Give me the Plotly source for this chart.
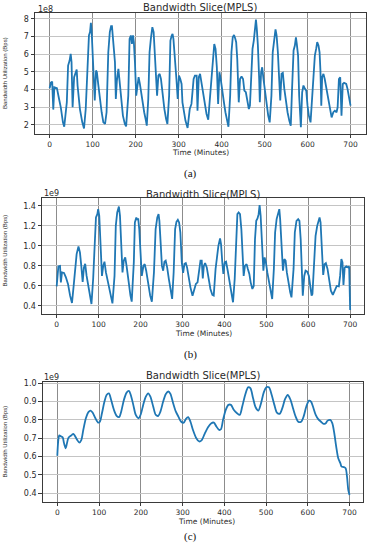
import plotly.graph_objects as go

# ---------------- data ----------------
# Panel (a): bandwidth, units of 1e8 Bps
time_a = [0, 3, 6, 8.5, 11, 14, 17, 22, 26, 31, 34, 40, 43, 46.5, 49, 51, 53.5, 57, 63, 65,
          70.5, 76, 80, 84, 88, 91.5, 94, 96, 97.7, 100, 103, 105, 108, 110, 113, 117, 121, 125, 129,
          132.5, 136.5, 140, 143, 145, 148, 152, 154, 156.5, 160, 163, 166, 170.5, 175, 178,
          183, 186, 189, 191.5, 194, 196, 198.5, 201.5, 205, 207, 210, 214, 216, 220, 224, 226,
          229.5, 232.5, 235.5, 239, 242, 244, 247, 250, 253, 256, 259, 263, 267, 271, 274,
          278, 281, 284, 286, 288, 291.5, 295, 298, 301, 304, 307, 309, 312, 316, 321,
          326, 330, 335, 338, 342, 344, 347, 350, 353.5, 357, 361, 365, 369,
          373, 377, 380.5, 383, 386, 389, 392, 395, 398, 401.5, 405.5, 409, 413, 416,
          420, 423, 426, 429, 432, 434, 436.5, 439, 440, 443, 446.5, 450, 453, 456.5, 460.5, 463.5, 466,
          470, 472, 475, 477.5, 480, 482, 484.5, 487.5, 489, 492, 494.5, 497.5, 501, 505, 508.5, 512,
          516, 519, 522, 525.5, 528, 531, 534, 536.5, 539.5, 542.5, 546, 550, 553.5, 557.5, 561,
          564, 567.5, 570.5, 573, 575, 578, 580.5, 582, 584.5, 587.5, 590.5, 594, 597, 600, 603, 607,
          611, 614, 617, 620, 622.5, 625.5, 628, 630, 632, 634, 637, 640, 644, 648, 652, 656, 660, 663.5, 667.5, 670,
          673, 676, 679, 682, 685, 690, 693, 697, 700]
bw_a = [4.08, 4.40, 4.45, 2.87, 4.13, 4.10, 4.08, 3.47, 3.00, 2.15, 1.90, 3.28, 5.36, 5.64, 6.02, 5.55, 3.00, 4.70, 5.13, 4.23,
        2.90, 2.15, 1.80, 2.90, 5.55, 7.06, 7.25, 7.77, 7.34, 6.10, 4.60, 3.38, 5.08, 4.98, 4.32, 3.47, 2.72, 2.15, 2.06,
        2.72, 6.11, 7.25, 7.58, 7.58, 6.87, 5.55, 3.47, 4.51, 5.17, 4.42, 3.28, 2.53, 2.06, 1.92,
        3.66, 6.87, 7.06, 6.58, 7.06, 6.68, 5.55, 3.66, 4.32, 4.70, 4.32, 3.57, 3.19, 2.72, 2.25, 1.96,
        3.47, 6.11, 6.87, 7.53, 7.25, 6.49, 4.98, 3.66, 4.79, 4.89, 4.60, 3.66, 2.90, 2.34, 2.06,
        3.66, 6.77, 7.06, 7.15, 6.87, 5.92, 4.60, 3.47, 4.79, 4.60, 4.32, 3.28, 2.72, 2.25, 1.83,
        2.90, 3.19, 4.60, 4.79, 4.79, 2.81, 4.70, 4.89, 4.32, 3.66, 3.28, 2.62, 2.30,
        3.66, 4.98, 6.11, 6.58, 6.30, 5.26, 3.19, 4.98, 4.60, 3.85, 3.28, 2.72, 2.34, 1.90,
        3.66, 6.11, 6.96, 7.09, 6.87, 6.68, 5.74, 4.42, 3.28, 4.60, 4.75, 4.60, 3.94, 3.85, 3.28, 2.90, 3.09,
        5.36, 6.30, 6.77, 7.25, 7.96, 7.43, 6.49, 4.60, 3.28, 4.98, 5.26, 4.60, 3.85, 3.09, 2.53, 2.15,
        3.66, 6.11, 6.87, 7.40, 7.06, 6.11, 4.60, 3.38, 4.89, 4.94, 4.04, 3.28, 2.72, 2.25, 1.96,
        4.04, 6.21, 6.49, 6.96, 6.58, 5.92, 3.66, 2.72, 1.87, 3.85, 4.23, 4.04, 3.94, 3.09, 2.53, 2.15,
        3.66, 5.36, 5.92, 6.30, 6.68, 6.49, 6.11, 5.08, 3.09, 4.70, 4.89, 4.60, 4.04, 3.38, 2.81, 2.43, 2.72, 2.81, 2.72, 3.00,
        4.60, 4.70, 2.53, 4.32, 4.38, 4.32, 4.04, 3.47, 3.09]

# Panel (b): bandwidth, units of 1e9 Bps
time_b = [0, 4, 8, 10, 12.7, 17.5, 22, 27, 32, 36.5, 40.5, 44.5, 47.6, 52, 55.5, 58.7, 62, 65, 68, 71.4,
          75.4, 79.4, 83, 87, 90.5, 93.7, 97, 99, 101.6, 104.8, 108, 111, 114, 117.5, 122, 127, 132, 133,
          138, 141, 144.4, 148.4, 151, 154, 157, 160, 163.5, 166.7, 171.4, 176, 179,
          184, 186.5, 190, 192, 194.4, 197, 200, 203, 207, 210, 213.5, 218, 223, 227,
          232, 236, 240, 243, 245, 248.4, 251, 254, 257, 260, 263.5, 267.5, 271.4, 275.4,
          279, 282.5, 285.7, 289, 292, 295, 298.4, 301.6, 304.8, 308, 311, 315, 319, 324, 328, 332, 336,
          340, 343, 346, 348.5, 351, 354, 358, 362, 366.7, 371.4, 374.6,
          379, 382.5, 385.7, 389.7, 392, 395, 397.6, 400.8, 404, 408, 412, 416, 420.6,
          424.6, 428, 431, 434, 437.3, 440.5, 443.6, 446, 449, 453, 456, 459.5, 462.7, 466.7, 470,
          473, 476, 479, 481.7, 484, 486.5, 489.7, 493, 496, 499, 502.4, 506.3, 510, 514,
          518, 521, 524.6, 528.6, 531, 533, 536.5, 539.7, 543, 546, 549, 553, 557, 560,
          565, 568, 572, 576, 579, 582, 584, 587, 590.5, 593.6, 597.6, 601.6, 604.8, 608, 610,
          614, 617.5, 621.4, 624.6, 627, 629.4, 632.5, 635.7, 639, 642, 646, 650, 654, 658.7, 663.5, 668, 673,
          676, 679, 681.7, 684, 687, 691, 695, 697.6, 700]
bw_b = [0.596, 0.795, 0.80, 0.636, 0.735, 0.73, 0.686, 0.62, 0.503, 0.43, 0.60, 0.835, 0.918, 0.995, 0.935, 0.80, 0.64, 0.785, 0.82, 0.70,
        0.60, 0.486, 0.42, 0.67, 1.00, 1.284, 1.317, 1.367, 1.30, 0.968, 0.70, 0.80, 0.842, 0.735, 0.636, 0.52, 0.437, 0.426,
        0.70, 1.20, 1.334, 1.393, 1.30, 1.068, 0.735, 0.852, 0.885, 0.80, 0.636, 0.503, 0.443,
        0.835, 1.234, 1.284, 1.26, 1.274, 1.167, 0.90, 0.70, 0.80, 0.818, 0.752, 0.62, 0.503, 0.443,
        0.735, 1.167, 1.284, 1.317, 1.25, 1.00, 0.80, 0.752, 0.842, 0.852, 0.785, 0.67, 0.553, 0.47,
        0.735, 1.167, 1.24, 1.26, 1.234, 1.134, 0.835, 0.73, 0.82, 0.828, 0.785, 0.67, 0.586, 0.503, 0.553, 0.62, 0.636,
        0.785, 0.852, 0.852, 0.676, 0.80, 0.828, 0.785, 0.70, 0.57, 0.51, 0.503,
        0.77, 0.918, 1.00, 1.074, 1.018, 0.835, 0.72, 0.835, 0.842, 0.752, 0.636, 0.52, 0.437,
        0.67, 1.10, 1.317, 1.334, 1.317, 1.167, 0.852, 0.70, 0.80, 0.818, 0.77, 0.72, 0.636, 0.57, 0.60,
        1.067, 1.25, 1.274, 1.317, 1.407, 1.30, 1.034, 0.752, 0.885, 0.835, 0.735, 0.636, 0.536, 0.47,
        0.77, 1.134, 1.267, 1.334, 1.367, 1.267, 1.034, 0.752, 0.868, 0.852, 0.735, 0.62, 0.536, 0.486,
        0.77, 1.134, 1.25, 1.267, 1.25, 1.067, 0.735, 0.503, 0.70, 0.752, 0.742, 0.70, 0.60, 0.503, 0.52,
        0.835, 1.10, 1.20, 1.25, 1.284, 1.234, 1.00, 0.71, 0.818, 0.828, 0.77, 0.652, 0.553, 0.51, 0.553, 0.60, 0.596,
        0.70, 0.868, 0.835, 0.61, 0.785, 0.795, 0.785, 0.795, 0.36]

# Panel (c): bandwidth, units of 1e9 Bps
time_c = [0, 2.4, 4.8, 8.8, 12.8, 16, 20, 22.3, 26.3, 30.3, 35, 38.3, 42, 47.8, 52.6, 57.4, 62.2, 68.6, 75, 79.7,
          84.5, 91, 98, 102, 106.9, 113, 118, 123.6, 129, 135.6, 142, 148, 153, 159.5, 166, 171.5, 176, 182,
          188, 194.6, 200, 205.7, 212, 217.7, 223, 229.7, 236, 242, 247, 253.6, 260, 266, 271, 277.5, 284,
          290, 296.7, 303, 307.8, 313.4, 319, 325, 333, 339.7, 346, 353, 361, 369, 375, 381, 387.6, 392,
          397, 403.5, 410, 416, 422.6, 430.6, 437, 443, 450, 457, 462.5, 469, 475, 481.6, 488, 494.4, 500.8,
          507, 513.6, 520, 526, 532.7, 539, 545.5, 552, 558, 564.6, 571, 577, 584, 590, 596.5, 603, 607.7,
          612.4, 619, 625, 631.6, 638, 643, 647.5, 654, 658.7, 663.5, 668, 673, 678, 681, 686, 690.6, 694, 697, 700]
bw_c = [0.604, 0.69, 0.715, 0.71, 0.705, 0.673, 0.645, 0.664, 0.70, 0.71, 0.718, 0.724, 0.713, 0.69, 0.676, 0.69, 0.745, 0.81, 0.844, 0.851,
        0.84, 0.81, 0.785, 0.79, 0.836, 0.90, 0.936, 0.945, 0.909, 0.855, 0.822, 0.815, 0.845, 0.909, 0.949, 0.958, 0.936, 0.882,
        0.827, 0.809, 0.831, 0.882, 0.927, 0.945, 0.927, 0.873, 0.827, 0.822, 0.845, 0.90, 0.942, 0.955, 0.942, 0.891, 0.845,
        0.818, 0.79, 0.785, 0.804, 0.815, 0.79, 0.745, 0.70, 0.682, 0.69, 0.724, 0.76, 0.782, 0.785, 0.764, 0.745, 0.749,
        0.80, 0.855, 0.882, 0.882, 0.855, 0.836, 0.827, 0.873, 0.936, 0.978, 0.973, 0.918, 0.869, 0.851, 0.891, 0.949, 0.978,
        0.978, 0.936, 0.882, 0.84, 0.833, 0.864, 0.913, 0.936, 0.913, 0.864, 0.818, 0.79, 0.79, 0.818, 0.873, 0.905, 0.90,
        0.873, 0.827, 0.804, 0.79, 0.778, 0.782, 0.796, 0.80, 0.782, 0.727, 0.655, 0.59, 0.564, 0.545, 0.542, 0.536, 0.49, 0.418, 0.39]

x_ticks = [0, 100, 200, 300, 400, 500, 600, 700]
y_ticks_a = [2, 3, 4, 5, 6, 7, 8]
y_ticks_b = [0.4, 0.6, 0.8, 1.0, 1.2, 1.4]
y_ticks_c = [0.4, 0.5, 0.6, 0.7, 0.8, 0.9, 1.0]

title_text = "Bandwidth Slice(MPLS)"
x_label = "Time (Minutes)"
y_label = "Bandwidth Utilization (Bps)"
captions = ["(a)", "(b)", "(c)"]
exponents = ["1e8", "1e9", "1e9"]

# ---------------- layout helpers ----------------
W, H = 375, 550
def px_x(v):
    return v / W
def px_y(v):
    return 1 - v / H

LINE = "#1f77b4"
TXT = "#2a2a2a"
FONT = "DejaVu Sans"

fig = go.Figure()
fig.add_trace(go.Scatter(x=time_a, y=bw_a, mode="lines", line=dict(color=LINE, width=1.8),
                         xaxis="x", yaxis="y", showlegend=False))
fig.add_trace(go.Scatter(x=time_b, y=bw_b, mode="lines", line=dict(color=LINE, width=1.8),
                         xaxis="x2", yaxis="y2", showlegend=False))
fig.add_trace(go.Scatter(x=time_c, y=bw_c, mode="lines", line=dict(color=LINE, width=1.8, shape="spline", smoothing=0.8),
                         xaxis="x3", yaxis="y3", showlegend=False))

def xax(domain, rng, anchor):
    return dict(domain=domain, range=rng, anchor=anchor, tickvals=x_ticks, automargin=False,
                showline=True, mirror=True, linecolor="#3a3a3a", linewidth=1,
                ticks="outside", ticklen=3, tickcolor="#3a3a3a", tickwidth=1,
                showgrid=True, gridcolor="#8c8c8c", gridwidth=1, zeroline=False,
                tickfont=dict(family=FONT, size=7.5, color=TXT))

def yax(domain, rng, anchor, tv, fmt):
    return dict(domain=domain, range=rng, anchor=anchor, tickvals=tv, tickformat=fmt, automargin=False,
                showline=True, mirror=True, linecolor="#3a3a3a", linewidth=1,
                ticks="outside", ticklen=3.5, tickcolor="#3a3a3a", tickwidth=1,
                showgrid=True, gridcolor="#c4c4c4", gridwidth=1, zeroline=False,
                tickfont=dict(family=FONT, size=8, color=TXT))

fig.update_layout(
    width=W, height=H,
    margin=dict(l=0, r=0, t=0, b=0, pad=0, autoexpand=False),
    paper_bgcolor="white", plot_bgcolor="white",
    xaxis=xax([px_x(35), px_x(366)], [-34, 736], "y"),
    yaxis=yax([px_y(134), px_y(13)], [1.49, 8.33], "x", y_ticks_a, "d"),
    xaxis2=xax([px_x(42), px_x(364)], [-35, 733], "y2"),
    yaxis2=yax([px_y(314), px_y(198.3)], [0.32, 1.475], "x2", y_ticks_b, ".1f"),
    xaxis3=xax([px_x(42.7), px_x(363.3)], [-35, 733], "y3"),
    yaxis3=yax([px_y(501.7), px_y(382)], [0.353, 1.007], "x3", y_ticks_c, ".1f"),
)

ann = []
def text(x, y, s, size, family=FONT, angle=0, color=TXT):
    ann.append(dict(x=px_x(x), y=px_y(y), xref="paper", yref="paper", text=s, showarrow=False,
                    xanchor="center", yanchor="middle", textangle=angle,
                    font=dict(family=family, size=size, color=color)))

title_pos = [(200, 7.5), (203, 194), (203, 375)]
exp_pos = [(45, 9.5), (51, 193.5), (51, 377)]
xlab_pos = [(200, 152.5), (203, 333), (206, 521)]
cap_pos = [(190, 173), (190, 354), (190, 536)]
ylab_pos = [(4.5, 73.5), (4.5, 251), (4.5, 442)]

for i in range(3):
    text(*title_pos[i], title_text, 10)
    text(*exp_pos[i], exponents[i], 8)
    text(*xlab_pos[i], x_label, 7.5)
    text(*cap_pos[i], captions[i], 11, family="Liberation Serif", color="#111")
    text(*ylab_pos[i], y_label, 6, family="Liberation Sans Narrow, Liberation Sans", angle=-90)

fig.update_layout(annotations=ann)

fig.write_html("out.html", config={"displayModeBar": False},
               post_script="document.body.style.margin='0';document.body.style.overflow='hidden';")
